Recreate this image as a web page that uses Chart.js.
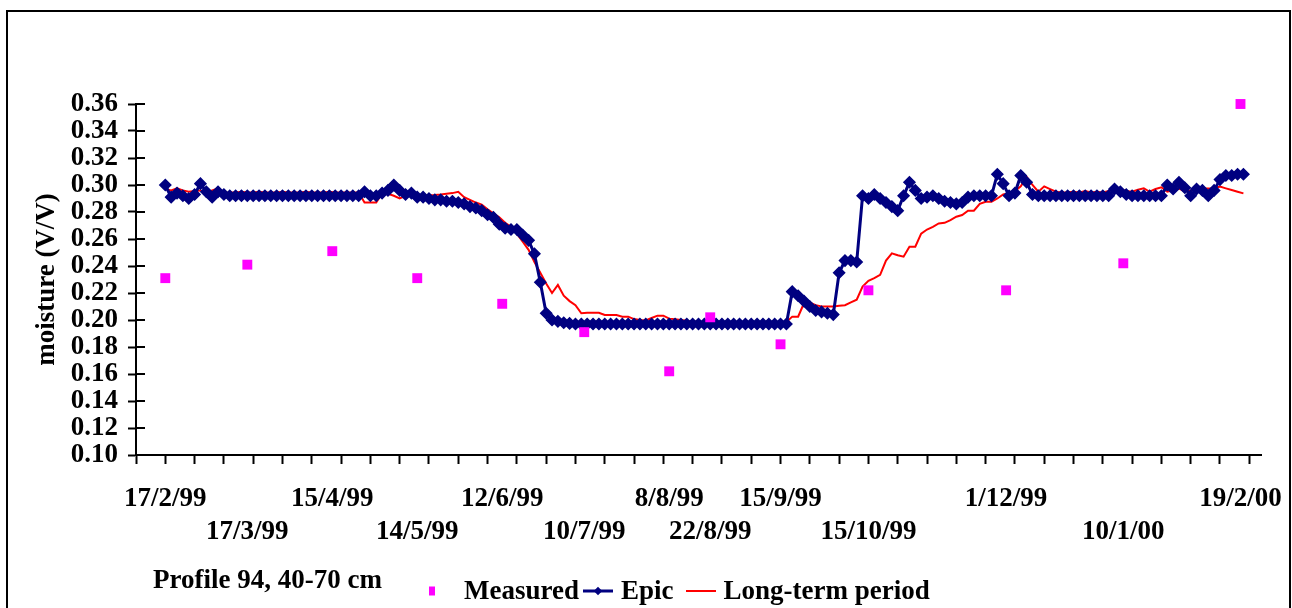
<!DOCTYPE html>
<html>
<head>
<meta charset="utf-8">
<title>Profile 94, 40-70 cm</title>
<script src="https://cdn.jsdelivr.net/npm/chart.js@4.4.1/dist/chart.umd.min.js"></script>
<style>
  html, body { margin: 0; padding: 0; background: #fff; overflow: hidden; }
  #wrap { position: relative; width: 1292px; height: 608px; overflow: hidden; }
  #frame { position: absolute; left: 6px; top: 10px; width: 1281px; height: 640px; border: 2px solid #000; }
  #chart { position: absolute; left: 0; top: 0; }
  .txt { position: absolute; font: bold 27px "Liberation Serif", "Times New Roman", serif; line-height: 27px; color: #000; white-space: nowrap; }
  #profile { left: 153px; top: 566px; }
  #legend { left: 412px; top: 577px; display: flex; align-items: center; }
  .item { display: flex; align-items: center; margin-right: 4px; }
  .item:nth-child(2) { margin-right: 12px; }
  .key { position: relative; width: 30px; height: 27px; margin-right: 8px; }
  .key .ln { position: absolute; left: 0; right: 0; top: 50%; transform: translateY(-50%); }
  .key .mk { position: absolute; left: 50%; top: 50%; }
  .item.first .key { width: 40px; margin-right: 12px; }
</style>
</head>
<body>
<div id="wrap">
  <div id="frame"></div>
  <canvas id="chart" width="1292" height="608"></canvas>
  <div class="txt" id="profile">Profile 94, 40-70 cm</div>
  <div class="txt" id="legend"></div>
</div>
<script>
// measurement dates (also the x axis labels) and measured moisture
const measuredDates = ['17/2/99', '17/3/99', '15/4/99', '14/5/99', '12/6/99', '10/7/99', '8/8/99',
  '22/8/99', '15/9/99', '15/10/99', '1/12/99', '10/1/00', '19/2/00'];
const measuredValues = [0.231, 0.241, 0.251, 0.231, 0.212, 0.191, 0.162,
  0.202, 0.182, 0.222, 0.222, 0.242, 0.360];

// simulated series, one value every 2 days starting 17/2/99
const simStepDays = 2;
const epicValues = [
  0.300, 0.291, 0.294, 0.292, 0.290, 0.293, 0.301, 0.295, 0.291, 0.295,   // day 0
  0.293, 0.292, 0.292, 0.292, 0.292, 0.292, 0.292, 0.292, 0.292, 0.292,   // day 20
  0.292, 0.292, 0.292, 0.292, 0.292, 0.292, 0.292, 0.292, 0.292, 0.292,   // day 40
  0.292, 0.292, 0.292, 0.292, 0.295, 0.292, 0.292, 0.294, 0.296, 0.300,   // day 60
  0.296, 0.293, 0.294, 0.291, 0.291, 0.290, 0.289, 0.289, 0.288, 0.288,   // day 80
  0.287, 0.286, 0.284, 0.283, 0.281, 0.278, 0.276, 0.271, 0.268, 0.267,   // day 100
  0.267, 0.263, 0.259, 0.249, 0.228, 0.205, 0.200, 0.199, 0.198, 0.1975,  // day 120
  0.197, 0.197, 0.197, 0.197, 0.197, 0.197, 0.197, 0.197, 0.197, 0.197,   // day 140
  0.197, 0.197, 0.197, 0.197, 0.197, 0.197, 0.197, 0.197, 0.197, 0.197,   // day 160
  0.197, 0.197, 0.197, 0.197, 0.197, 0.197, 0.197, 0.197, 0.197, 0.197,   // day 180
  0.197, 0.197, 0.197, 0.197, 0.197, 0.197, 0.197, 0.221, 0.218, 0.214,   // day 200
  0.210, 0.207, 0.206, 0.205, 0.204, 0.235, 0.244, 0.244, 0.243, 0.292,   // day 220
  0.290, 0.293, 0.290, 0.287, 0.284, 0.281, 0.292, 0.302, 0.296, 0.290,   // day 240
  0.291, 0.292, 0.290, 0.288, 0.287, 0.286, 0.287, 0.291, 0.292, 0.292,   // day 260
  0.292, 0.292, 0.308, 0.301, 0.292, 0.294, 0.307, 0.302, 0.293, 0.292,   // day 280
  0.292, 0.292, 0.292, 0.292, 0.292, 0.292, 0.292, 0.292, 0.292, 0.292,   // day 300
  0.292, 0.292, 0.297, 0.295, 0.293, 0.292, 0.292, 0.292, 0.292, 0.292,   // day 320
  0.292, 0.300, 0.297, 0.302, 0.298, 0.292, 0.297, 0.296, 0.292, 0.296,   // day 340
  0.304, 0.307, 0.307, 0.308, 0.308                                       // day 360
];
const longTermValues = [
  0.297, 0.296, 0.2975, 0.296, 0.295, 0.2955, 0.296, 0.2945, 0.296, 0.2975,       // day 0
  0.294, 0.2945, 0.2945, 0.295, 0.2945, 0.2945, 0.295, 0.2945, 0.2945, 0.2945,    // day 20
  0.295, 0.2945, 0.2945, 0.2945, 0.295, 0.2945, 0.2945, 0.2945, 0.295, 0.2945,    // day 40
  0.2945, 0.2945, 0.2945, 0.2945, 0.287, 0.287, 0.287, 0.294, 0.2935, 0.292,      // day 60
  0.290, 0.292, 0.293, 0.292, 0.292, 0.2925, 0.2926, 0.293, 0.2935, 0.294,        // day 80
  0.295, 0.291, 0.289, 0.287, 0.2855, 0.282, 0.279, 0.276, 0.272, 0.269,          // day 100
  0.264, 0.258, 0.252, 0.243, 0.235, 0.227, 0.220, 0.226, 0.218, 0.214,           // day 120
  0.211, 0.205, 0.2054, 0.2054, 0.2054, 0.2037, 0.2037, 0.2037, 0.2025, 0.2025,   // day 140
  0.2007, 0.200, 0.1997, 0.2015, 0.2032, 0.2032, 0.201, 0.2005, 0.200, 0.1995,    // day 160
  0.1988, 0.1985, 0.1985, 0.1985, 0.1985, 0.1985, 0.1985, 0.1985, 0.1985, 0.1985, // day 180
  0.1985, 0.1985, 0.1985, 0.1985, 0.1985, 0.1985, 0.1985, 0.2025, 0.2025, 0.2124, // day 200
  0.213, 0.211, 0.210, 0.210, 0.210, 0.2105, 0.211, 0.213, 0.215, 0.2247,         // day 220
  0.229, 0.231, 0.2335, 0.244, 0.2494, 0.248, 0.2469, 0.2543, 0.2543, 0.264,      // day 240
  0.267, 0.269, 0.2715, 0.272, 0.274, 0.2765, 0.2778, 0.281, 0.281, 0.286,        // day 260
  0.2876, 0.2876, 0.290, 0.293, 0.294, 0.2955, 0.299, 0.306, 0.300, 0.295,        // day 280
  0.299, 0.297, 0.295, 0.2945, 0.2946, 0.295, 0.2945, 0.2955, 0.2945, 0.295,      // day 300
  0.2945, 0.2955, 0.2993, 0.297, 0.2955, 0.295, 0.2965, 0.2975, 0.295, 0.297,     // day 320
  0.2983, 0.295, 0.296, 0.2975, 0.295, 0.296, 0.2975, 0.2975, 0.2975, 0.2975,     // day 340
  0.2988, 0.2975, 0.2963, 0.295, 0.2938                                           // day 360
];

const seriesNames = ['Measured', 'Epic', 'Long-term period'];
const yTitle = 'moisture (V/V)';

// days since the first measurement
function toDay(s) {
  const p = s.split('/').map(Number);
  const d = Date.UTC(2000 + (p[2] > 50 ? p[2] - 100 : p[2]), p[1] - 1, p[0]);
  const p0 = measuredDates[0].split('/').map(Number);
  const d0 = Date.UTC(1900 + p0[2], p0[1] - 1, p0[0]);
  return Math.round((d - d0) / 86400000);
}
const measuredDays = measuredDates.map(toDay);

const FONT = 'Liberation Serif';
Chart.defaults.font.family = FONT;
Chart.defaults.color = '#000';

// y ticks cross the axis line, so draw the inner half too
const innerTicks = {
  id: 'innerTicks',
  beforeDatasetsDraw(chart) {
    const y = chart.scales.y, ctx = chart.ctx;
    ctx.save();
    ctx.strokeStyle = '#000';
    ctx.lineWidth = 2;
    y.ticks.forEach(t => {
      const py = Math.round(y.getPixelForValue(t.value));
      ctx.beginPath();
      ctx.moveTo(y.right, py);
      ctx.lineTo(y.right + 9, py);
      ctx.stroke();
    });
    ctx.restore();
  }
};

const chart = new Chart(document.getElementById('chart'), {
  type: 'line',
  data: {
    datasets: [
      {
        label: seriesNames[0],
        data: measuredDays.map((d, i) => ({ x: d, y: measuredValues[i] })),
        showLine: false,
        pointStyle: 'rect',
        pointRadius: 7,
        pointBorderWidth: 0,
        backgroundColor: '#FF00FF',
        borderColor: '#FF00FF',
        clip: 12,
        order: 0
      },
      {
        label: seriesNames[1],
        data: epicValues.map((v, i) => ({ x: i * simStepDays, y: v })),
        borderColor: '#000080',
        backgroundColor: '#000080',
        borderWidth: 3,
        pointStyle: 'rectRot',
        pointRadius: 5.5,
        pointBorderWidth: 1.5,
        pointBorderColor: '#000080',
        pointBackgroundColor: '#000080',
        order: 1
      },
      {
        label: seriesNames[2],
        data: longTermValues.map((v, i) => ({ x: i * simStepDays, y: v })),
        borderColor: '#FF0000',
        borderWidth: 2,
        pointRadius: 0,
        order: 2
      }
    ]
  },
  options: {
    responsive: false,
    animation: false,
    events: [],
    layout: { padding: { left: 0, top: 104, right: 31, bottom: 0 } },
    plugins: { legend: { display: false }, tooltip: { enabled: false } },
    scales: {
      x: {
        type: 'linear',
        min: -10,
        max: 374,
        afterFit(s) { s.height = 153; },
        afterBuildTicks(s) {
          const t = [];
          for (let d = -10; d <= 370; d += 10) t.push({ value: d });
          measuredDays.forEach((d, i) => {
            t.push({ value: d, text: i % 2 === 0 ? [measuredDates[i], ''] : ['', measuredDates[i]] });
          });
          t.sort((a, b) => a.value - b.value);
          s.ticks = t;
        },
        ticks: {
          autoSkip: false,
          maxRotation: 0,
          minRotation: 0,
          padding: 19,
          font: { family: FONT, size: 27, weight: 'bold', lineHeight: 1.22 },
          color: '#000',
          callback(value, index, ticks) { return ticks[index].text || ''; }
        },
        grid: {
          drawOnChartArea: false,
          tickLength: 9,
          tickWidth: 2,
          tickColor: c => (c.tick && c.tick.text) ? 'rgba(0,0,0,0)' : '#000'
        },
        border: { display: true, color: '#000', width: 2 }
      },
      y: {
        min: 0.10,
        max: 0.36,
        afterFit(s) { s.width = 136; },
        ticks: {
          stepSize: 0.02,
          autoSkip: false,
          padding: 10,
          font: { family: FONT, size: 27, weight: 'bold' },
          color: '#000',
          callback: v => v.toFixed(2)
        },
        grid: { drawOnChartArea: false, tickLength: 8, tickWidth: 2, tickColor: '#000' },
        border: { display: true, color: '#000', width: 2 },
        title: {
          display: true,
          text: yTitle,
          color: '#000',
          font: { family: FONT, size: 27, weight: 'bold', lineHeight: 1.2 },
          padding: { top: 31, bottom: 0 }
        }
      }
    }
  },
  plugins: [innerTicks]
});

// legend in the html, built from the chart's datasets
const legend = document.getElementById('legend');
chart.data.datasets.forEach((ds, i) => {
  const item = document.createElement('div');
  item.className = i === 0 ? 'item first' : 'item';
  const key = document.createElement('div');
  key.className = 'key';
  if (ds.showLine !== false) {
    const ln = document.createElement('div');
    ln.className = 'ln';
    ln.style.height = ds.borderWidth + 'px';
    ln.style.background = ds.borderColor;
    key.appendChild(ln);
  }
  if (ds.pointRadius > 0) {
    const mk = document.createElement('div');
    mk.className = 'mk';
    if (ds.pointStyle === 'rectRot') {
      mk.style.width = '6px'; mk.style.height = '6px';
      mk.style.transform = 'translate(-50%,-50%) rotate(45deg)';
    } else {
      mk.style.width = '6px'; mk.style.height = '9px';
      mk.style.transform = 'translate(-50%,-50%)';
    }
    mk.style.background = ds.backgroundColor;
    key.appendChild(mk);
  }
  const lbl = document.createElement('span');
  lbl.textContent = ds.label;
  item.appendChild(key);
  item.appendChild(lbl);
  legend.appendChild(item);
});
</script>
</body>
</html>
